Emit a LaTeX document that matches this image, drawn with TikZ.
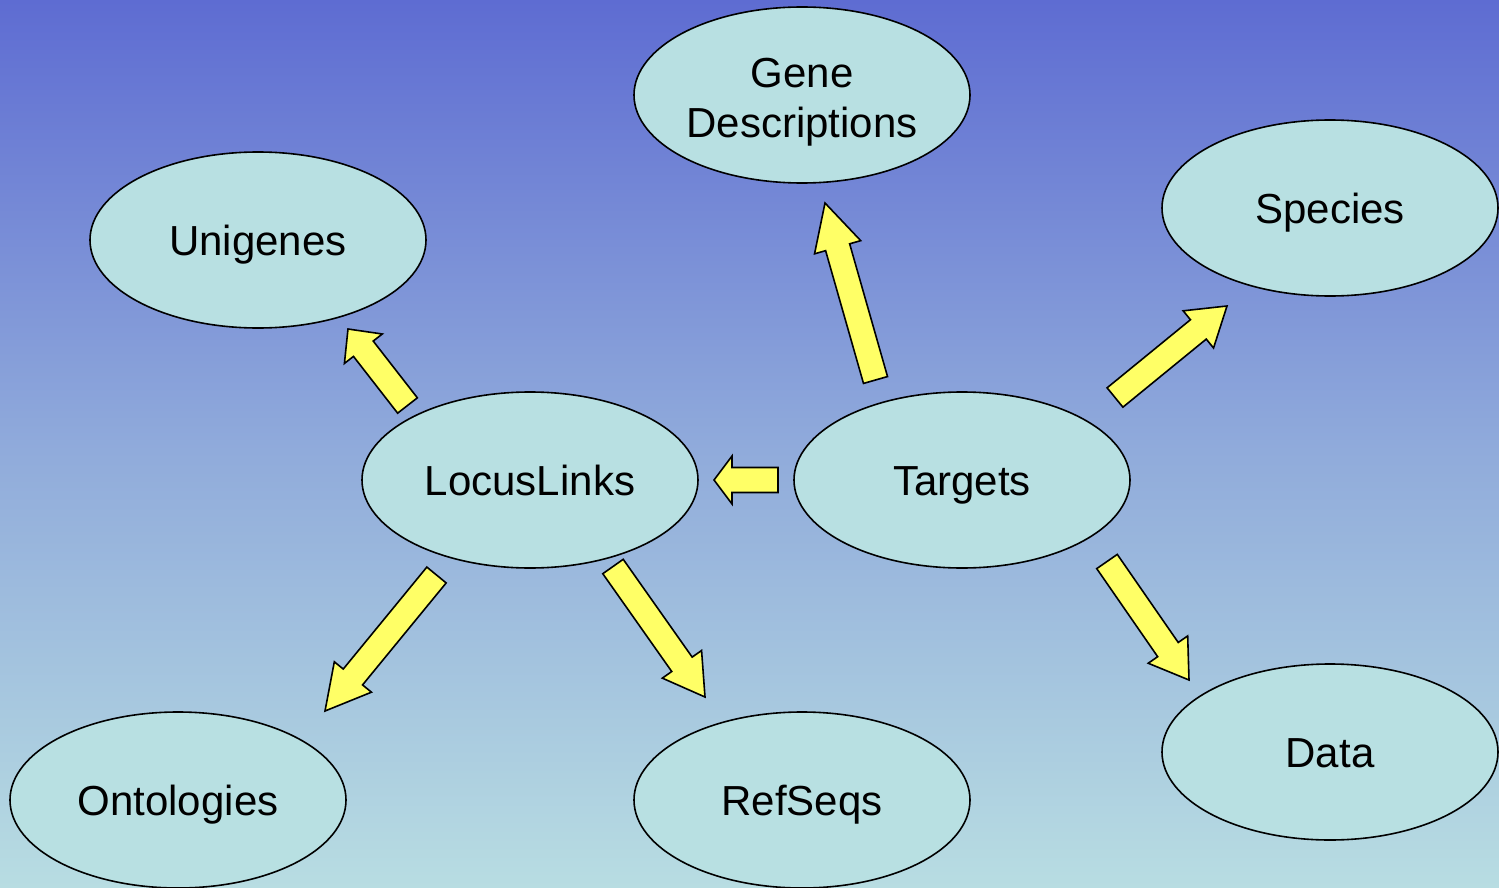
\documentclass[tikz,border=0pt]{standalone}
\usepackage{fontspec}
\setmainfont{Liberation Sans}
\usetikzlibrary{shapes.geometric,calc}

\definecolor{bgtop}{HTML}{5E6CD2}
\definecolor{bgbot}{HTML}{B8DDE2}
\definecolor{bubblefill}{HTML}{B8E0E2}
\definecolor{arrowyellow}{HTML}{FFFF66}

\tikzset{
  bubble/.style={ellipse, draw=black, line width=1.6pt, fill=bubblefill,
    minimum width=336pt, minimum height=176pt, inner sep=0pt, align=center,
    text height=31pt, text depth=0pt,
    font=\fontsize{42}{51}\selectfont},
  twoline/.style={text height=86pt, text depth=0pt},
  blockarrow/.style={draw=black, fill=arrowyellow, line width=1.6pt, line join=miter},
}

% Block arrow from a tail coordinate to a tip coordinate, head length #3
\newcommand\flowarrow[3]{%
  \coordinate (hb) at ($(#2)!#3!(#1)$);
  \draw[blockarrow]
    ($(#1)!12.5pt!90:(#2)$) --
    ($(hb)!12.5pt!90:(#2)$) --
    ($(hb)!24pt!90:(#2)$) --
    (#2) --
    ($(hb)!24pt!-90:(#2)$) --
    ($(hb)!12.5pt!-90:(#2)$) --
    ($(#1)!12.5pt!-90:(#2)$) -- cycle;
}

\begin{document}
\begin{tikzpicture}[x=1pt,y=-1pt]
  % background
  \useasboundingbox (0,0) rectangle (1499,888);
  \shade[top color=bgtop, bottom color=bgbot, middle color=bgtop!45!bgbot] (0,0) rectangle (1499,888);

  % topics
  \node[bubble,twoline] (gene)  at (802,95)  {Gene\\Descriptions};
  \node[bubble] (uni)   at (258,240) {Unigenes};
  \node[bubble] (spec)  at (1330,208) {Species};
  \node[bubble] (locus) at (530,480) {LocusLinks};
  \node[bubble] (targ)  at (962,480) {Targets};
  \node[bubble] (onto)  at (178,800) {Ontologies};
  \node[bubble] (ref)   at (802,800) {RefSeqs};
  \node[bubble] (data)  at (1330,752) {Data};

  % arrow ends
  \coordinate (lu-tail) at (407.5,405.5);  \coordinate (lu-tip) at (348,329);
  \coordinate (tg-tail) at (875.5,380);    \coordinate (tg-tip) at (825,203);
  \coordinate (ts-tail) at (1115,397.5);   \coordinate (ts-tip) at (1227,306);
  \coordinate (tl-tail) at (778,480);      \coordinate (tl-tip) at (714,480);
  \coordinate (lo-tail) at (436.5,575);    \coordinate (lo-tip) at (325,711);
  \coordinate (lr-tail) at (613,566.5);    \coordinate (lr-tip) at (705,697);
  \coordinate (td-tail) at (1107,561.5);   \coordinate (td-tip) at (1189,680);

  \flowarrow{lu-tail}{lu-tip}{25pt}
  \flowarrow{tg-tail}{tg-tip}{46pt}
  \flowarrow{ts-tail}{ts-tip}{37pt}
  \flowarrow{tl-tail}{tl-tip}{18pt}
  \flowarrow{lo-tail}{lo-tip}{44pt}
  \flowarrow{lr-tail}{lr-tip}{40pt}
  \flowarrow{td-tail}{td-tip}{37pt}
\end{tikzpicture}
\end{document}
